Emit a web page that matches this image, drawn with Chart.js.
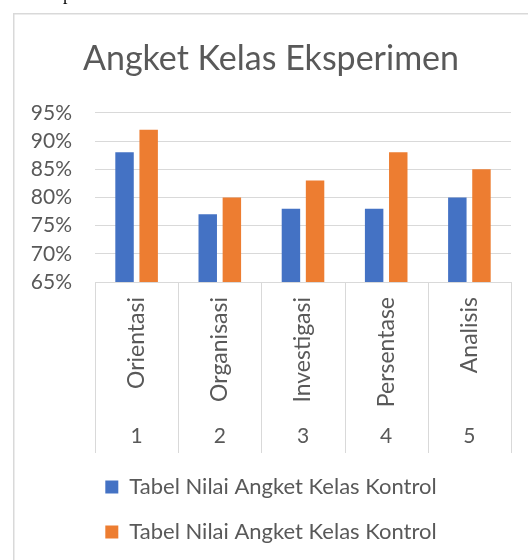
<!DOCTYPE html>
<html>
<head>
<meta charset="utf-8">
<script src="https://cdn.jsdelivr.net/npm/chart.js@4.4.1/dist/chart.umd.min.js"></script>
<style>
    html, body { margin: 0; padding: 0; background: #fff; }
    #wrap { position: relative; width: 528px; height: 560px; overflow: hidden; }
    #chart { position: absolute; left: 0; top: 0; }
    #doc { position: absolute; left: 63px; top: -16px; font: 18px "Liberation Serif"; color: #000; }
</style>
</head>
<body>
<div id="wrap">
    <canvas id="chart" width="528" height="560"></canvas>
    <div id="doc">p</div>
</div>
<script>
const categories = ["Orientasi", "Organisasi", "Investigasi", "Persentase", "Analisis"];
const categoryNumbers = ["1", "2", "3", "4", "5"];
const seriesNames = ["Tabel Nilai Angket Kelas Kontrol", "Tabel Nilai Angket Kelas Kontrol"];
const seriesBlue = [88, 77, 78, 78, 80];
const seriesOrange = [92, 80, 83, 88, 85];
const yTicks = [65, 70, 75, 80, 85, 90, 95];

const textColor = '#595959';
const lineColor = '#d9d9d9';
const fontFamily = 'Lato';

// chart frame like the Excel chart border
const frame = {
    id: 'frame',
    beforeDraw(chart) {
        const ctx = chart.ctx;
        ctx.save();
        ctx.strokeStyle = lineColor;
        ctx.lineWidth = 1.5;
        ctx.strokeRect(13.75, 13.75, chart.width + 10, chart.height + 10);
        ctx.restore();
    }
};

// vertical separators of the two-level category axis
const separators = {
    id: 'separators',
    afterDraw(chart) {
        const x = chart.scales.x, x2 = chart.scales.x2;
        const ctx = chart.ctx;
        ctx.save();
        ctx.strokeStyle = lineColor;
        ctx.lineWidth = 1;
        for (let i = 0; i <= categories.length; i++) {
            const px = Math.round(x.getPixelForValue(i - 0.5)) + 0.5;
            ctx.beginPath();
            ctx.moveTo(px, x.top);
            ctx.lineTo(px, x2.bottom);
            ctx.stroke();
        }
        ctx.restore();
    }
};

new Chart(document.getElementById('chart'), {
    type: 'bar',
    data: {
        labels: categories,
        datasets: [
            { label: seriesNames[0], data: seriesBlue, backgroundColor: '#4472C4', borderWidth: 0 },
            { label: seriesNames[1], data: seriesOrange, backgroundColor: '#ED7D31', borderWidth: 0 }
        ]
    },
    options: {
        responsive: false,
        animation: false,
        layout: { padding: { left: 14, top: 14, right: 0, bottom: 7 } },
        datasets: { bar: { categoryPercentage: 0.58, barPercentage: 0.765 } },
        plugins: {
            tooltip: { enabled: false },
            title: {
                display: true,
                text: 'Angket Kelas Eksperimen',
                color: textColor,
                font: { family: fontFamily, size: 34, weight: 'normal' },
                padding: { top: 25, bottom: 33 }
            },
            legend: {
                position: 'bottom',
                labels: {
                    boxWidth: 13,
                    boxHeight: 13,
                    padding: 23,
                    color: textColor,
                    font: { family: fontFamily, size: 22 }
                }
            }
        },
        scales: {
            x: {
                offset: true,
                grid: { display: false, drawTicks: false },
                border: { display: true, color: lineColor, width: 1 },
                ticks: {
                    autoSkip: false, minRotation: 90, maxRotation: 90, padding: 15,
                    color: textColor, font: { family: fontFamily, size: 23 }
                },
                afterFit: s => { s.height = 135; }
            },
            x2: {
                type: 'category',
                labels: categoryNumbers,
                position: 'bottom',
                offset: true,
                grid: { display: false, drawTicks: false },
                border: { display: false },
                ticks: { padding: 7, color: textColor, font: { family: fontFamily, size: 21 } },
                afterFit: s => { s.height = 36; }
            },
            y: {
                min: yTicks[0],
                max: yTicks[yTicks.length - 1],
                afterBuildTicks: s => { s.ticks = yTicks.map(v => ({ value: v })); },
                grid: { color: lineColor, lineWidth: 1, drawTicks: false },
                border: { display: false },
                ticks: {
                    padding: 23, color: textColor,
                    font: { family: fontFamily, size: 21 },
                    callback: v => v + '%'
                },
                afterFit: s => { s.width = 81; }
            },
            yR: {
                type: 'linear',
                position: 'right',
                grid: { display: false },
                border: { display: false },
                ticks: { display: false },
                afterFit: s => { s.width = 17; }
            }
        }
    },
    plugins: [frame, separators]
});
</script>
</body>
</html>
